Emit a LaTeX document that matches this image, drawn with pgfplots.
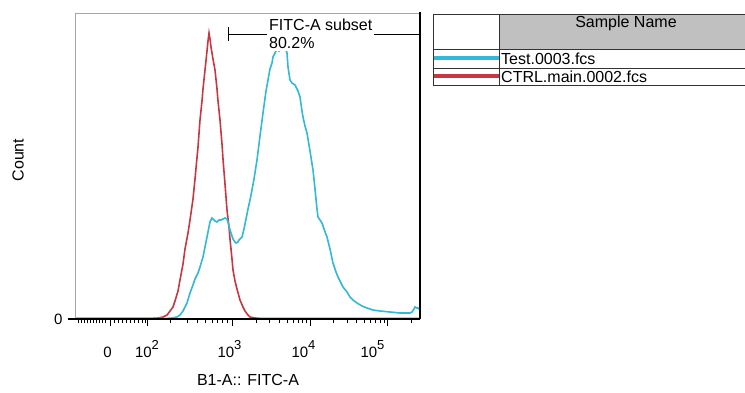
\documentclass[border=0pt]{standalone}
\usepackage{pgfplots}
\pgfplotsset{compat=1.18}
\usepackage{fontspec}
\setmainfont{Liberation Sans}
\definecolor{cyanc}{RGB}{50,185,215}
\definecolor{redc}{RGB}{200,55,65}
\definecolor{hdr}{RGB}{192,192,192}
\newcommand{\ex}[1]{\raisebox{8pt}{\fontsize{13}{13}\selectfont #1}}
\begin{document}
\begin{tikzpicture}[x=1pt,y=1pt]
\useasboundingbox (0,0) rectangle (745,392);
\begin{axis}[
  at={(75pt,73pt)}, anchor=south west,
  width=345pt, height=306pt, scale only axis,
  xmin=75, xmax=420, ymin=0, ymax=306,
  axis line style={draw=none},
  clip=true,
  xtick pos=bottom, ytick pos=left,
  tick align=outside,
  major tick length=7pt, minor tick length=4pt,
  tick style={black, line width=0.8pt},
  minor tick style={black, line width=0.6pt},
  xtick={110,147,232,310,387},
  xticklabels={{\hspace*{-5pt}0},{10\ex{2}},{\hspace*{-5pt}10\ex{3}},{\hspace*{-13pt}10\ex{4}},{\hspace*{-29pt}10\ex{5}}},
  minor xtick={78,81,84,87,90,93,96,99,102,105,114,118,122,126,130,134,138,142,145,170,187,197,205,212,217,222,227,256,269,279,287,293,298,302,306,333,347,356,364,370,375,380,384,411},
  ytick={0}, yticklabels={0},
  ticklabel style={font=\fontsize{15}{17}\selectfont},
  xticklabel style={anchor=base, yshift=-31pt},
  yticklabel style={xshift=-2pt},
]
\addplot[redc, line width=1.6pt] coordinates {
(75,0.5) (150,0.5) (158,1) (163,2) (167,4) (170,8) (173,12) (175,18) (178,28) (180,39) (183,55) (185,70) (188,86) (190,99) (193,120) (195,140) (198,172) (200,199) (202,218) (203,230) (205,249) (207,268) (208,278) (209,286) (210,280) (211,272) (212,266) (213,260) (215,249) (217,230) (218,218) (220,199) (222,175) (223,160) (225,135) (227,109) (229,92) (230,80) (232,60) (233,49) (235,38) (237,30) (240,19) (243,12) (245,8) (248,4) (250,2) (255,1) (262,0.5) (420,0.5)
};
\addplot[cyanc, line width=1.6pt] coordinates {
(75,0.5) (165,0.5) (172,1) (177,2) (180,4) (183,8) (187,16) (190,26) (193,34) (195,40) (198,46) (200,52) (203,62) (205,72) (207,82) (209,92) (210,97) (212,101) (213,100) (215,98) (217,97) (219,99) (221,99) (223,100) (225,101) (227,100) (228,97) (230,89) (232,83) (233,80) (235,77) (236,76) (238,77) (239,79) (241,81) (242,82) (244,90) (246,100) (248,110) (250,119) (252,129) (254,140) (257,159) (260,183) (263,206) (266,228) (268,239) (270,250) (272,256) (273,262) (275,266) (277,270) (279,268) (281,274) (283,277) (285,272) (287,266) (288,252) (290,239) (292,236) (295,234) (298,228) (300,222) (302,208) (303,202) (305,193) (307,186) (310,168) (313,149) (315,130) (317,110) (318,102) (320,99) (322,96) (324,90) (327,82) (330,70) (333,56) (336,47) (338,42) (341,36) (343,32) (347,27) (350,22) (353,19) (357,16) (362,13) (367,11) (373,9) (380,8) (390,7) (400,6) (407,6) (410,6) (412,7) (414,10) (415,12) (417,11) (418,11) (420,9)
};
\end{axis}
% frame
\draw[gray!70, line width=0.8pt] (75,73) -- (75,379) -- (420,379);
\draw[black, line width=2pt] (420,73) -- (420,380);
\draw[black, line width=1.2pt] (68,73) -- (420,73);
% gate
\draw[black, line width=0.9pt] (228,358) -- (420,358);
\draw[black, line width=0.9pt] (228,351) -- (228,365);
\node[anchor=west, fill=white, align=left, inner sep=2pt, font=\fontsize{16}{18}\selectfont] at (267,358) {FITC-A subset\\80.2\%};
% axis labels
\node[font=\fontsize{16}{18}\selectfont] at (248,12) {B1-A:: FITC-A};
\node[rotate=90, font=\fontsize{16}{18}\selectfont] at (18,232) {Count};
% legend table
\fill[hdr] (499,343) rectangle (745,378);
\draw[black!80, line width=0.8pt] (433,307) rectangle (745,378);
\draw[black!80, line width=0.8pt] (433,343) -- (745,343);
\draw[black!80, line width=0.8pt] (433,324) -- (745,324);
\draw[black!80, line width=0.8pt] (499,307) -- (499,378);
\draw[cyanc, line width=4pt] (433.5,334) -- (498.5,334);
\draw[redc, line width=4pt] (433.5,316) -- (498.5,316);
\node[font=\fontsize{16}{18}\selectfont] at (626,369) {Sample Name};
\node[anchor=west, inner sep=1pt, font=\fontsize{16}{18}\selectfont] at (500,333) {Test.0003.fcs};
\node[anchor=west, inner sep=1pt, font=\fontsize{16}{18}\selectfont] at (500,315) {CTRL.main.0002.fcs};
\end{tikzpicture}
\end{document}
